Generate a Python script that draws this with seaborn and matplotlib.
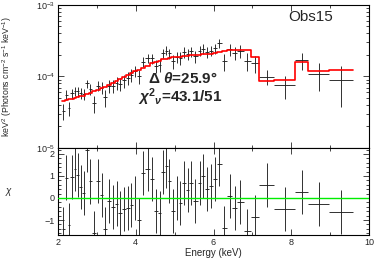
import numpy as np
import matplotlib
matplotlib.use("Agg")
import matplotlib.pyplot as plt
from matplotlib.ticker import MultipleLocator, LogLocator, NullFormatter
import seaborn as sns

# ---------------- data ----------------
# bin edges in keV
edges = [2.10, 2.18, 2.25, 2.32, 2.40, 2.47, 2.55, 2.62, 2.70, 2.79,
         2.87, 2.98, 3.07, 3.17, 3.27, 3.36, 3.46, 3.55, 3.65, 3.75,
         3.84, 3.94, 4.03, 4.13, 4.25, 4.37, 4.47, 4.57, 4.66, 4.74,
         4.82, 4.91, 5.01, 5.10, 5.20, 5.30, 5.38, 5.48, 5.59, 5.69,
         5.79, 5.88, 5.98, 6.09, 6.21, 6.35, 6.48, 6.61, 6.77, 6.95,
         7.18, 7.56, 8.10, 8.44, 8.96, 9.58]

# unfolded flux, units of 1e-4 keV^2 (Photons cm^-2 s^-1 keV^-1)
flux = [0.329, 0.557, 0.361, 0.582, 0.631, 0.617, 0.585, 0.564, 0.802, 0.667,
        0.423, 0.740, 0.696, 0.514, 0.737, 0.731, 0.817, 0.791, 0.880, 0.951,
        1.048, 1.192, 1.003, 1.618, 1.789, 1.784, 1.408, 1.446, 2.131, 2.296,
        2.108, 1.635, 1.872, 1.809, 2.189, 2.087, 2.246, 1.925, 2.280, 2.436,
        2.210, 2.298, 2.480, 2.908, 1.641, 2.407, 2.152, 2.266, 1.647, 1.530,
        0.993, 0.758, 1.687, 1.086, 0.900]
flux_err = [0.080, 0.085, 0.085, 0.090, 0.092, 0.095, 0.098, 0.100, 0.105, 0.110,
            0.115, 0.120, 0.128, 0.135, 0.142, 0.150, 0.160, 0.170, 0.180, 0.192,
            0.205, 0.218, 0.230, 0.245, 0.262, 0.280, 0.295, 0.308, 0.320, 0.330,
            0.338, 0.345, 0.350, 0.355, 0.360, 0.365, 0.370, 0.372, 0.375, 0.380,
            0.385, 0.390, 0.400, 0.420, 0.430, 0.450, 0.450, 0.450, 0.450, 0.410,
            0.230, 0.270, 0.450, 0.460, 0.520]
# folded model, same units
model = [0.46, 0.47, 0.48, 0.49, 0.50, 0.51, 0.53, 0.54, 0.56, 0.58,
         0.62, 0.64, 0.68, 0.72, 0.76, 0.80, 0.86, 0.92, 0.98, 1.05,
         1.12, 1.19, 1.25, 1.32, 1.42, 1.52, 1.60, 1.67, 1.73, 1.78,
         1.82, 1.85, 1.88, 1.90, 1.93, 1.95, 1.97, 1.98, 2.00, 2.03,
         2.05, 2.07, 2.12, 2.22, 2.26, 2.36, 2.36, 2.36, 2.34, 1.88,
         0.86, 0.89, 1.57, 1.21, 1.22]
# residuals (chi)
chi = [-1.42, 0.93, -1.24, 0.94, 1.31, 1.05, 0.52, 0.22, 2.16, 0.75,
       -1.59, 0.78, 0.12, -1.43, -0.15, -0.43, -0.25, -0.70, -0.51, -0.47,
       -0.32, 0.01, -0.99, 1.13, 1.30, 0.87, -0.60, -0.67, 1.16, 1.45,
       0.79, -0.58, -0.02, -0.24, 0.67, 0.35, 0.70, -0.14, 0.70, 1.00,
       0.39, 0.55, 0.85, 1.55, -1.37, 0.10, -0.44, -0.20, -1.48, -0.85,
       0.58, -0.49, 0.26, -0.27, -0.62]

obs_label = "Obs15"
angle_label = r"$\mathbf{\Delta}$ $\mathbfit{\theta}$=25.9°"
chi2_label = r"$\mathbfit{\chi}^{\mathbf{2}}{}_{\mathbfit{\nu}}$=43.1/51"

# ---------------- plotting ----------------
sns.set_theme(style="ticks")
plt.rcParams["font.family"] = ["Liberation Sans", "DejaVu Sans"]
plt.rcParams["mathtext.fontset"] = "custom"
plt.rcParams["mathtext.rm"] = "Liberation Sans"
plt.rcParams["mathtext.it"] = "Liberation Sans:italic"
plt.rcParams["mathtext.bf"] = "Liberation Sans:bold"
plt.rcParams["mathtext.bfit"] = "Liberation Sans:italic:bold"
plt.rcParams["mathtext.default"] = "regular"

e = np.array(edges)
energy = 0.5 * (e[:-1] + e[1:])
halfw = 0.5 * (e[1:] - e[:-1])
scale = 1e-4

fig = plt.figure(figsize=(3.74, 2.61), dpi=100)
ax1 = fig.add_axes([0.155, 0.433, 0.832, 0.548])
ax2 = fig.add_axes([0.155, 0.0996, 0.832, 0.3334])

ax1.errorbar(energy, np.array(flux) * scale, xerr=halfw,
             yerr=np.array(flux_err) * scale, fmt="none", ecolor="#222222",
             elinewidth=0.65, capsize=0, zorder=2)
sns.lineplot(x=e, y=np.append(model, model[-1]) * scale, drawstyle="steps-post",
             color="red", lw=1.2, ax=ax1, estimator=None, sort=False, zorder=3)

ax1.set_yscale("log")
ax1.set_ylim(1e-5, 1e-3)
ax1.set_xlim(2, 10)
ax1.xaxis.set_major_locator(MultipleLocator(2))
ax1.xaxis.set_minor_locator(MultipleLocator(1))
ax1.yaxis.set_major_locator(LogLocator(base=10, numticks=10))
ax1.yaxis.set_minor_locator(LogLocator(base=10, subs=np.arange(2, 10), numticks=20))
ax1.yaxis.set_minor_formatter(NullFormatter())
ax1.tick_params(which="both", direction="in", top=True, right=True,
                labelbottom=False, labelsize=6.5, width=0.6, pad=2)
ax1.tick_params(which="major", length=4)
ax1.tick_params(which="minor", length=2)
ax1.set_xlabel("")

ax2.errorbar(energy, chi, xerr=halfw, yerr=np.ones(len(chi)), fmt="none",
             ecolor="#222222", elinewidth=0.65, capsize=0, zorder=2)
ax2.axhline(0, color="#00ee00", lw=1.0, zorder=3)
ax2.set_xlim(2, 10)
ax2.set_ylim(-1.68, 2.27)
ax2.xaxis.set_major_locator(MultipleLocator(2))
ax2.xaxis.set_minor_locator(MultipleLocator(1))
ax2.yaxis.set_major_locator(MultipleLocator(1))
ax2.yaxis.set_minor_locator(MultipleLocator(0.2))
ax2.tick_params(which="both", direction="in", top=True, right=True,
                labelsize=6.5, width=0.6, pad=2.5)
ax2.tick_params(which="major", length=4)
ax2.tick_params(which="minor", length=2)

for ax in (ax1, ax2):
    for s in ax.spines.values():
        s.set_linewidth(0.8)
        s.set_color("black")

fig.text(0.02, 0.707, "keV$^{2}$ (Photons cm$^{-2}$ s$^{-1}$ keV$^{-1}$)",
         rotation=90, ha="center", va="center", fontsize=6.3)
fig.text(0.025, 0.266, r"$\it{\chi}$", ha="center", va="center", fontsize=7)
fig.text(0.571, 0.031, "Energy (keV)", ha="center", va="center", fontsize=7)

ax1.text(0.74, 0.89, obs_label, transform=ax1.transAxes, fontsize=11,
         ha="left", va="baseline")
ax1.text(0.289, 0.455, angle_label, transform=ax1.transAxes, fontsize=11,
         ha="left", va="baseline", fontweight="bold")
ax1.text(0.257, 0.324, chi2_label, transform=ax1.transAxes, fontsize=11,
         ha="left", va="baseline", fontweight="bold")

fig.savefig("out.png", dpi=100)
